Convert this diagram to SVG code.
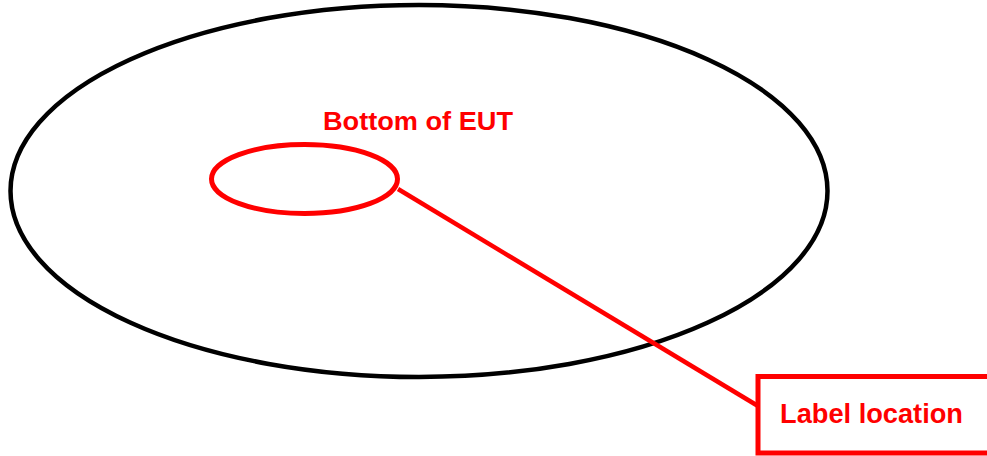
<svg xmlns="http://www.w3.org/2000/svg" width="987" height="456" viewBox="0 0 987 456">
<style>
.red{fill:none;stroke:#ff0000;stroke-width:5}
.lbl{font-family:"Liberation Sans",Arial,sans-serif;font-weight:bold;fill:#ff0000}
</style>
<rect width="987" height="456" fill="#ffffff"/>
<g id="plate"><ellipse cx="419" cy="191" rx="408.5" ry="186" fill="none" stroke="#000" stroke-width="4.5"/></g>
<g id="connectors"><line x1="398" y1="189" x2="758" y2="406" stroke="#ff0000" stroke-width="4.5"/></g>
<g id="eut"><ellipse class="red" cx="304.5" cy="179" rx="93" ry="34.5"/>
<text class="lbl" x="323" y="130" font-size="25" textLength="190" lengthAdjust="spacingAndGlyphs">Bottom of EUT</text></g>
<g id="label"><rect class="red" x="758" y="376.5" width="240" height="76.5"/>
<text class="lbl" x="780" y="423" font-size="27" textLength="183" lengthAdjust="spacingAndGlyphs">Label location</text></g>
</svg>
